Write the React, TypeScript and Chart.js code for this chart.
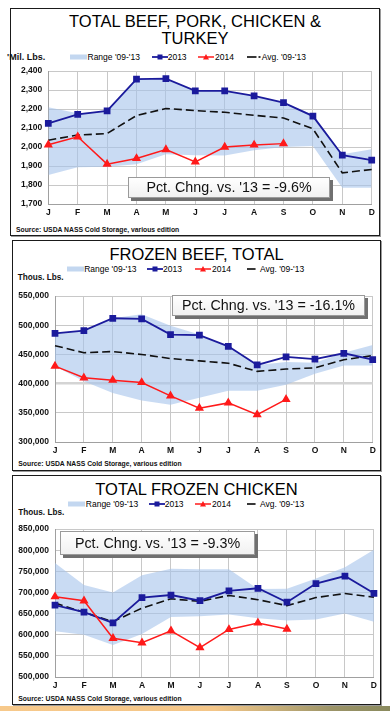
import React, { useEffect, useRef } from 'react';
import { Chart, registerables } from 'chart.js';

Chart.register(...registerables);

const months = ['J', 'F', 'M', 'A', 'M', 'J', 'J', 'A', 'S', 'O', 'N', 'D'];

// Panel 1: Total beef, pork, chicken & turkey (Mil. Lbs.)
const meat2013 = [2125, 2172, 2190, 2358, 2360, 2296, 2296, 2270, 2234, 2163, 1957, 1931];
const meat2014 = [2012, 2054, 1910, 1940, 1987, 1922, 2000, 2011, 2018, null, null, null];
const meatAvg = [2036, 2063, 2071, 2166, 2203, 2192, 2183, 2167, 2153, 2096, 1864, 1882];
const meatHigh = [2210, 2178, 2190, 2358, 2360, 2296, 2296, 2270, 2234, 2170, 1962, 1988];
const meatLow = [1853, 1893, 1896, 1910, 1962, 1957, 1955, 1983, 2000, 2006, 1785, 1785];

// Panel 2: Frozen beef, total (Thous. Lbs.)
const beef2013 = [486000, 491000, 512000, 511000, 484000, 483000, 464000, 432000, 446000, 442000, 452000, 441000];
const beef2014 = [430000, 410000, 406000, 402000, 379000, 358000, 367000, 347000, 373000, null, null, null];
const beefAvg = [465000, 453000, 455000, 450000, 443000, 439000, 435000, 421000, 425000, 427000, 441000, 448000];
const beefHigh = [486000, 491000, 512000, 519000, 499000, 484000, 464000, 432000, 437000, 436000, 453000, 466000];
const beefLow = [430000, 404000, 384000, 371000, 364000, 376000, 388000, 388000, 398000, 417000, 431000, 431000];

// Panel 3: Total frozen chicken (Thous. Lbs.)
const chick2013 = [670000, 653500, 628000, 688000, 694000, 680500, 704000, 710000, 677000, 721000, 739000, 698000];
const chick2014 = [690000, 680500, 591700, 581000, 609500, 569400, 612500, 628000, 613400, null, null, null];
const chickAvg = [675000, 653000, 631000, 663000, 685000, 679000, 693000, 683000, 669000, 688000, 697500, 689000];
const chickHigh = [770000, 718000, 700000, 741000, 756000, 755000, 755000, 708000, 709000, 733000, 760000, 801000];
const chickLow = [608000, 600000, 576000, 602000, 642000, 644000, 648000, 639000, 634000, 636000, 650000, 631000];

const FONT = '"Liberation Sans", Arial, Helvetica, sans-serif';
const NAVY = '#1b1b9c';
const RED = '#ff1a1a';
const BAND = 'rgba(165,195,235,0.6)';

type ChartProps = {
  high: (number | null)[];
  low: (number | null)[];
  s2013: (number | null)[];
  s2014: (number | null)[];
  avg: (number | null)[];
  min: number;
  max: number;
  step: number;
  left: number;
  top: number;
  width: number;
  height: number;
  yAxisWidth: number;
  padTop: number;
  padRight: number;
  thickGrid?: number;
};

function LineChart(p: ChartProps) {
  const ref = useRef<HTMLCanvasElement | null>(null);
  useEffect(() => {
    if (!ref.current) return;
    const tickFont = { family: FONT, size: 8.5, weight: 'bold' as const };
    const chart = new Chart(ref.current, {
      type: 'line',
      data: {
        labels: months,
        datasets: [
          { label: 'low', data: p.low, borderWidth: 0, borderColor: 'rgba(0,0,0,0)', pointRadius: 0, fill: false, order: 10 },
          { label: "Range '09-'13", data: p.high, borderWidth: 0, borderColor: 'rgba(0,0,0,0)', pointRadius: 0, fill: '-1', backgroundColor: BAND, order: 9 },
          { label: "Avg. '09-'13", data: p.avg, borderColor: '#111', borderWidth: 1.6, borderDash: [8, 4], pointRadius: 0, fill: false, order: 3 },
          { label: '2014', data: p.s2014, borderColor: RED, backgroundColor: RED, pointBorderColor: RED, pointStyle: 'triangle', pointRadius: 3.8, borderWidth: 1.5, fill: false, order: 1 },
          { label: '2013', data: p.s2013, borderColor: NAVY, backgroundColor: NAVY, pointBorderColor: NAVY, pointStyle: 'rect', pointRadius: 3.5, borderWidth: 1.8, fill: false, order: 2 },
        ] as any,
      },
      options: {
        animation: false,
        responsive: false,
        maintainAspectRatio: false,
        layout: { padding: { top: p.padTop, right: p.padRight, left: 0, bottom: 0 } },
        plugins: { legend: { display: false }, tooltip: { enabled: false }, title: { display: false } },
        scales: {
          x: {
            type: 'category',
            offset: false,
            grid: { color: '#c8c8c8', drawTicks: false },
            border: { color: '#a0a0a0' },
            ticks: { padding: 4, autoSkip: false, maxRotation: 0, minRotation: 0, font: tickFont, color: '#111' },
            afterFit: (s: any) => { s.height = 14; },
          },
          y: {
            min: p.min,
            max: p.max,
            grid: {
              color: (ctx: any) => (p.thickGrid !== undefined && ctx.tick && ctx.tick.value === p.thickGrid ? '#d4d4d4' : '#c8c8c8'),
              lineWidth: (ctx: any) => (p.thickGrid !== undefined && ctx.tick && ctx.tick.value === p.thickGrid ? 2.5 : 1),
              drawTicks: false,
            },
            border: { color: '#a0a0a0' },
            ticks: {
              stepSize: p.step,
              padding: 6,
              font: tickFont,
              color: '#111',
              callback: (v: any) => Number(v).toLocaleString('en-US'),
            },
            afterFit: (s: any) => { s.width = p.yAxisWidth; },
          },
        },
      } as any,
    });
    return () => chart.destroy();
  }, []);
  return (
    <canvas
      ref={ref}
      width={p.width}
      height={p.height}
      style={{ position: 'absolute', left: p.left, top: p.top, width: p.width, height: p.height }}
    />
  );
}

type LegendPos = { top: number; range: number; t2013: number; t2014: number; avg: number; avgDashed: boolean };

function Legend({ pos }: { pos: LegendPos }) {
  const text: React.CSSProperties = { position: 'absolute', top: pos.top, fontFamily: FONT, fontSize: 8.5, lineHeight: '10px', color: '#000', whiteSpace: 'nowrap' };
  const sym = (l: number, w: number): React.CSSProperties => ({ position: 'absolute', left: l, top: pos.top, width: w, height: 10 });
  return (
    <>
      <svg style={sym(pos.range, 17)} width={17} height={10}>
        <rect x={0} y={2.5} width={17} height={5} fill="#c3d7f0" />
      </svg>
      <div style={{ ...text, left: pos.range + 17.5 }}>Range '09-'13</div>
      <svg style={sym(pos.t2013, 16)} width={16} height={10}>
        <line x1={0} y1={5} x2={16} y2={5} stroke={NAVY} strokeWidth={1.8} />
        <rect x={5.5} y={2.5} width={5} height={5} fill={NAVY} />
      </svg>
      <div style={{ ...text, left: pos.t2013 + 16 }}>2013</div>
      <svg style={sym(pos.t2014, 16)} width={16} height={10}>
        <line x1={0} y1={5} x2={16} y2={5} stroke={RED} strokeWidth={1.5} />
        <polygon points="8,2 11,7.5 5,7.5" fill={RED} />
      </svg>
      <div style={{ ...text, left: pos.t2014 + 17 }}>2014</div>
      <svg style={sym(pos.avg, 14)} width={14} height={10}>
        {pos.avgDashed ? (
          <>
            <line x1={0} y1={5} x2={9.5} y2={5} stroke="#222" strokeWidth={1.8} />
            <line x1={11.5} y1={5} x2={13.5} y2={5} stroke="#222" strokeWidth={1.8} />
          </>
        ) : (
          <line x1={0} y1={5} x2={8.5} y2={5} stroke="#222" strokeWidth={1.8} />
        )}
      </svg>
      <div style={{ ...text, left: pos.avg + (pos.avgDashed ? 15 : 13.3) }}>Avg. '09-'13</div>
    </>
  );
}

function PctBox({ left, top, width, height, label }: { left: number; top: number; width: number; height: number; label: string }) {
  return (
    <div
      style={{
        position: 'absolute',
        left,
        top,
        width,
        height,
        boxSizing: 'border-box',
        border: '1px solid #9a9a9a',
        background: 'linear-gradient(#ffffff, #f1f1f1)',
        boxShadow: '3px 3px 0 #707070',
        fontFamily: FONT,
        fontSize: 14.3,
        lineHeight: `${height - 2}px`,
        textAlign: 'center',
        color: '#111',
        whiteSpace: 'nowrap',
      }}
    >
      {label}
    </div>
  );
}

function SmallText({ left, top, children, size = 8.5 }: { left: number; top: number; children: React.ReactNode; size?: number }) {
  return (
    <div style={{ position: 'absolute', left, top, fontFamily: FONT, fontWeight: 'bold', fontSize: size, lineHeight: '10px', color: '#111', whiteSpace: 'nowrap' }}>
      {children}
    </div>
  );
}

function Title({ top, left, width, children }: { top: number; left: number; width: number; children: React.ReactNode }) {
  return (
    <div style={{ position: 'absolute', top, left, width, textAlign: 'center', fontFamily: FONT, fontSize: 16.5, lineHeight: '17.7px', color: '#000', whiteSpace: 'nowrap' }}>
      {children}
    </div>
  );
}

function Panel({ left, top, width, height }: { left: number; top: number; width: number; height: number }) {
  return (
    <div
      style={{ position: 'absolute', left, top, width, height, boxSizing: 'border-box', border: '1.5px solid #1a1a1a', background: '#fff', boxShadow: '1px 1px 0 #9a9a9a' }}
    />
  );
}

const SOURCE = 'Source:  USDA NASS Cold Storage, various edition';

export default function App() {
  return (
    <div style={{ position: 'absolute', left: 0, top: 0, width: 390, height: 711, background: '#fff', overflow: 'hidden' }}>
      {/* Panel 1 */}
      <Panel left={10} top={8} width={370} height={228} />
      <Title top={12.7} left={10} width={370}>
        TOTAL BEEF, PORK, CHICKEN &amp;
        <br />
        TURKEY
      </Title>
      <SmallText left={7} top={52} size={9}>'Mil. Lbs.</SmallText>
      <Legend pos={{ top: 51.7, range: 70, t2013: 151.7, t2014: 198, avg: 246.7, avgDashed: true }} />
      <LineChart
        high={meatHigh} low={meatLow} s2013={meat2013} s2014={meat2014} avg={meatAvg}
        min={1700} max={2400} step={100}
        left={10} top={60} width={370} height={158} yAxisWidth={38.3} padTop={9.3} padRight={8.3}
      />
      <PctBox left={128} top={177} width={202} height={21} label="Pct. Chng. vs. '13 = -9.6%" />
      <SmallText left={16} top={225} size={6.8}>{SOURCE}</SmallText>

      {/* Panel 2 */}
      <Panel left={12} top={240} width={369} height={231} />
      <Title top={246.1} left={12} width={369}>FROZEN BEEF, TOTAL</Title>
      <Legend pos={{ top: 264, range: 66.7, t2013: 147, t2014: 195, avg: 246.7, avgDashed: false }} />
      <SmallText left={17.7} top={273.3} size={8.2}>Thous. Lbs.</SmallText>
      <LineChart
        high={beefHigh} low={beefLow} s2013={beef2013} s2014={beef2014} avg={beefAvg}
        min={300000} max={550000} step={50000}
        left={12} top={285} width={369} height={171} yAxisWidth={43} padTop={6.7} padRight={8.3} thickGrid={400000}
      />
      <PctBox left={172} top={295} width={193} height={21} label="Pct. Chng. vs. '13 = -16.1%" />
      <SmallText left={18.3} top={458.7} size={6.8}>{SOURCE}</SmallText>

      {/* Panel 3 */}
      <Panel left={12} top={475} width={369} height={230} />
      <Title top={481.1} left={12} width={369}>TOTAL FROZEN CHICKEN</Title>
      <Legend pos={{ top: 499.3, range: 68.3, t2013: 148.7, t2014: 195, avg: 246.7, avgDashed: false }} />
      <SmallText left={18.3} top={508.3} size={8.2}>Thous. Lbs.</SmallText>
      <LineChart
        high={chickHigh} low={chickLow} s2013={chick2013} s2014={chick2014} avg={chickAvg}
        min={500000} max={850000} step={50000}
        left={12} top={518} width={369} height={173} yAxisWidth={43} padTop={8} padRight={7}
      />
      <PctBox left={60} top={531} width={195} height={24} label="Pct. Chng. vs. '13 = -9.3%" />
      <SmallText left={18.3} top={694.3} size={6.8}>{SOURCE}</SmallText>

      {/* decorative strip at bottom */}
      <div
        style={{
          position: 'absolute', left: 0, top: 706, width: 390, height: 5,
          background: 'linear-gradient(90deg, #f7c98b 0%, #f4c688 55%, #c9b07a 70%, #9c9468 85%, #8a8a5e 100%)',
        }}
      />
    </div>
  );
}
